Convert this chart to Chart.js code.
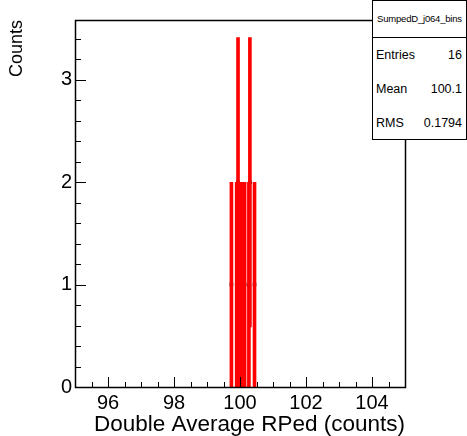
<!DOCTYPE html>
<html>
<head>
<meta charset="utf-8">
<script src="https://cdn.jsdelivr.net/npm/chart.js@4.4.1/dist/chart.umd.min.js"></script>
<style>
  html, body { margin: 0; padding: 0; background: #fff; }
  #wrap { position: relative; width: 467px; height: 436px; }
  #stats {
    position: absolute; left: 372px; top: 0px; width: 93px; height: 138px;
    border: 1px solid #000; background: #fff;
    font-family: "Liberation Sans", Arial, sans-serif; color: #000;
  }
  #stats .title {
    height: 36px; border-bottom: 1px solid #000; text-align: center;
    font-size: 9.5px; line-height: 36px; letter-spacing: -0.2px;
  }
  #stats .row {
    display: flex; justify-content: space-between; height: 34px; line-height: 34px;
    font-size: 12.5px; padding: 0 4px 0 3px;
  }
</style>
</head>
<body>
<div id="wrap">
  <canvas id="c" width="467" height="436"></canvas>
  <div id="stats">
    <div class="title" id="statsTitle"></div>
    <div class="row"><span>Entries</span><span id="sEntries"></span></div>
    <div class="row"><span>Mean</span><span id="sMean"></span></div>
    <div class="row"><span>RMS</span><span id="sRms"></span></div>
  </div>
</div>
<script>
// ---- data ----
const histName = "SumpedD_j064_bins";
const binCenters = [99.74, 99.90, 99.92, 99.94, 99.96, 99.99, 100.02, 100.05, 100.08, 100.11, 100.14, 100.27, 100.30, 100.44];
const binCounts  = [1,     1,     1,     2,     1,     1,     1,      1,      1,      1,      1,      1,      2,      1];
const binErrors  = [1,     1,     1,     1.414, 1,     1,     1,      1,      1,      1,      1,      1,      1.414,  1];
const xTickLabels = [96, 98, 100, 102, 104];
const xMinorTicks = [95.5, 96.5, 97, 97.5, 98.5, 99, 99.5, 100.5, 101, 101.5, 102.5, 103, 103.5, 104.5];
const yTickLabels = [0, 1, 2, 3];
const yMinorTicks = [0.2, 0.4, 0.6, 0.8, 1.2, 1.4, 1.6, 1.8, 2.2, 2.4, 2.6, 2.8, 3.2, 3.4];
const statEntries = "16";
const statMean = "100.1";
const statRms = "0.1794";
const xRange = [95, 105];
const yRange = [0, 3.585];

document.getElementById('statsTitle').textContent = histName;
document.getElementById('sEntries').textContent = statEntries;
document.getElementById('sMean').textContent = statMean;
document.getElementById('sRms').textContent = statRms;

const FONT = '"Liberation Sans", Arial, sans-serif';

const errorBarData = binCenters.map((x, i) => ({ x: x, y: [Math.max(0, binCounts[i] - binErrors[i]), binCounts[i] + binErrors[i]] }));
const markerData = binCenters.map((x, i) => ({ x: x, y: binCounts[i] }));

const rootFrame = {
  id: 'rootFrame',
  afterDatasetsDraw(chart) {
    const { ctx, chartArea: a, scales: { x, y } } = chart;
    ctx.save();
    ctx.strokeStyle = '#000';
    ctx.lineWidth = 1;
    ctx.beginPath();
    const vx = (v) => Math.round(x.getPixelForValue(v)) + 0.5;
    const vy = (v) => Math.round(y.getPixelForValue(v)) + 0.5;
    xMinorTicks.forEach(v => { const p = vx(v); ctx.moveTo(p, a.bottom); ctx.lineTo(p, a.bottom - 5); });
    xTickLabels.forEach(v => { const p = vx(v); ctx.moveTo(p, a.bottom); ctx.lineTo(p, a.bottom - 10); });
    yMinorTicks.forEach(v => { const p = vy(v); ctx.moveTo(a.left, p); ctx.lineTo(a.left + 6, p); });
    yTickLabels.forEach(v => { const p = vy(v); ctx.moveTo(a.left, p); ctx.lineTo(a.left + 11, p); });
    ctx.stroke();
    ctx.lineWidth = 1.5;
    ctx.strokeRect(Math.round(a.left) + 0.5, Math.round(a.top) + 0.5, Math.round(a.width), Math.round(a.height));
    ctx.restore();
  }
};

new Chart(document.getElementById('c'), {
  type: 'bar',
  data: {
    datasets: [
      {
        type: 'bar',
        data: errorBarData,
        backgroundColor: '#ff0000',
        borderWidth: 0,
        barThickness: 3,
        grouped: false,
        order: 1
      },
      {
        type: 'scatter',
        data: markerData,
        pointRadius: 2.5,
        pointStyle: 'rect',
        backgroundColor: '#000',
        borderColor: '#000',
        borderWidth: 0,
        order: 2
      }
    ]
  },
  options: {
    responsive: false,
    animation: false,
    events: [],
    layout: { padding: { top: 20, right: 62, left: 0, bottom: 0 } },
    plugins: { legend: { display: false }, tooltip: { enabled: false } },
    scales: {
      x: {
        type: 'linear', min: xRange[0], max: xRange[1], offset: false,
        grid: { display: false, drawTicks: false }, border: { display: false },
        afterBuildTicks: (s) => { s.ticks = xTickLabels.map(v => ({ value: v })); },
        afterFit: (s) => { s.height = 49; },
        ticks: { font: { family: FONT, size: 20 }, color: '#000', padding: 4, maxRotation: 0, autoSkip: false },
        title: { display: true, text: 'Double Average RPed (counts)', align: 'end', color: '#000',
                 font: { family: FONT, size: 22.5, lineHeight: 1 }, padding: 0 }
      },
      y: {
        type: 'linear', min: yRange[0], max: yRange[1],
        grid: { display: false, drawTicks: false }, border: { display: false },
        afterBuildTicks: (s) => { s.ticks = yTickLabels.map(v => ({ value: v })); },
        afterFit: (s) => { s.width = 75; },
        ticks: { font: { family: FONT, size: 20 }, color: '#000', padding: 3 },
        title: { display: true, text: 'Counts', align: 'end', color: '#000',
                 font: { family: FONT, size: 18, lineHeight: 1 }, padding: { top: 8, bottom: 0 } }
      }
    }
  },
  plugins: [rootFrame]
});
</script>
</body>
</html>
